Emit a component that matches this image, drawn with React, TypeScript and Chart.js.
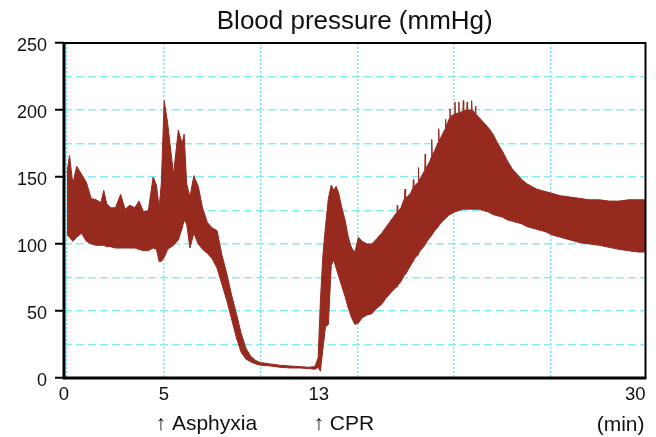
import React, { useEffect, useRef } from "react";
import { Chart, registerables } from "chart.js";

Chart.register(...registerables);

// time (min) at which envelope values were read
const timeMin = [
  0, 0.13, 0.3, 0.5, 0.75, 1.0, 1.25, 1.5, 1.75, 1.9, 2.05, 2.25, 2.5, 2.77, 3.0, 3.25, 3.5, 3.72, 3.95, 4.2,
  4.45, 4.62, 4.76, 4.87, 5.02, 5.2, 5.5, 5.75, 5.95, 6.05, 6.18, 6.35, 6.55, 6.78, 7.0, 7.25, 7.5, 7.75,
  8.0, 8.25, 8.5, 8.75, 9.0, 9.25, 9.5, 9.75, 10.0, 10.5, 11.0, 11.5, 12.0, 12.5, 12.8, 12.97,
  13.09, 13.22, 13.35, 13.5, 13.65, 13.78, 13.9, 14.03, 14.18, 14.36, 14.53, 14.7, 14.87, 15.05,
  15.25, 15.5, 15.75, 16.0, 16.25, 16.5, 16.75, 17.0, 17.04, 17.06, 17.08, 17.25, 17.43, 17.46, 17.49,
  17.75, 17.87, 17.89, 17.91, 18.0, 18.13, 18.15, 18.17, 18.25, 18.48, 18.5, 18.52, 18.75, 18.82, 18.84,
  18.86, 19.0, 19.18, 19.2, 19.22, 19.4, 19.53, 19.55, 19.57, 19.76, 19.78, 19.8, 20.02, 20.04, 20.06,
  20.22, 20.24, 20.26, 20.45, 20.47, 20.49, 20.65, 20.67, 20.69, 20.88, 20.9, 20.92, 21.08, 21.1, 21.12,
  21.25, 21.5, 21.75, 22.0, 22.25, 22.5, 22.75, 23.0, 23.25, 23.5, 23.75, 24.0, 24.25, 24.5, 24.75,
  25.0, 25.5, 26.0, 26.5, 27.0, 27.5, 28.0, 28.5, 29.0, 29.5, 30.0,
];

// upper envelope of the pressure trace (mmHg)
const systolicEnvelope = [
  153, 166, 145, 158, 152, 146, 134, 133, 131, 140, 130, 127, 127, 137, 126, 129, 127, 132, 124, 125,
  150, 144, 127, 145, 207, 190, 152, 185, 175, 182, 145, 135, 151, 143, 127, 116, 112, 110,
  92, 78, 62, 48, 33, 22, 16, 13, 11.5, 10.5, 9.5, 9, 8.5, 8, 8.5, 15,
  58, 92, 113, 134, 144, 140, 143, 138, 128, 118, 105, 97, 94, 105,
  102, 100, 100, 104, 108, 113, 118, 123, 124, 129, 124, 127, 134, 141, 134,
  138, 142, 148, 142, 144, 146, 157, 147, 149, 155, 167, 156, 162, 165, 178,
  166, 170, 176, 186, 177, 182, 186, 193, 187, 194, 201, 195, 197, 206, 197,
  198, 206, 198, 199, 207, 199, 200, 206, 200, 200, 207, 200, 198, 203, 197,
  195, 191, 187, 182, 175, 169, 162, 156, 152, 148, 145, 143, 141, 140, 139,
  138, 136, 135, 134, 133, 133, 132, 132, 133, 133, 133,
];

// lower envelope of the pressure trace (mmHg)
const diastolicEnvelope = [
  107, 105, 102, 105, 108, 102, 100, 99, 99, 99, 98, 98, 97, 97, 97, 97, 97, 96, 95, 95,
  97, 96, 87, 87, 90, 96, 99, 103, 112, 118, 115, 97, 108, 100, 96, 93, 89, 82,
  70, 58, 44, 30, 19, 14, 12, 10.5, 9.5, 9, 8, 7.5, 7.5, 7, 6.5, 8,
  5, 22, 38, 40, 84, 88, 82, 76, 69, 61, 52, 45, 40, 41,
  45, 47, 48, 52, 55, 60, 64, 68, 68, 68, 69, 72, 77, 77, 77,
  84, 87, 87, 88, 90, 92, 93, 93, 95, 99, 100, 100, 105, 106, 106,
  107, 110, 113, 113, 114, 117, 119, 119, 119, 122, 122, 122, 124, 124, 124,
  125, 125, 125, 126, 126, 126, 126, 126, 126, 126, 126, 126, 126, 126, 126,
  126, 125, 124, 122, 121, 120, 118, 117, 116, 115, 113, 112, 111, 110, 109,
  107, 105, 103, 101, 100, 99, 97.5, 96, 95, 94, 94,
];

const yMajorTicks = [0, 50, 100, 150, 200, 250];
const xGridMinutes = [0, 5, 10, 15, 20, 25];
const xLabelValues = [0, 5, 13, 30];
const xLabelTexts = ["0", "5", "13", "30"];
const eventValues = [5, 13];
const eventTexts = ["\u2191 Asphyxia", "\u2191 CPR"];
const titleText = "Blood pressure (mmHg)";
const unitText = "(min)";

const FONT = '"Liberation Sans", Arial, Helvetica, sans-serif';
const TRACE = "#962a1f";
const GRID_H = "#86edf3";
const GRID_V = "#78e6ef";

const framePlugin = {
  id: "bpFrame",
  afterDatasetsDraw(chart: any) {
    const { ctx, chartArea: a } = chart;
    ctx.save();
    ctx.strokeStyle = "#000";
    ctx.lineWidth = 2;
    ctx.beginPath();
    ctx.moveTo(a.left, a.top);
    ctx.lineTo(a.right, a.top);
    ctx.lineTo(a.right, a.bottom);
    ctx.stroke();
    ctx.lineWidth = 3;
    ctx.beginPath();
    ctx.moveTo(a.left, a.top - 1);
    ctx.lineTo(a.left, a.bottom);
    ctx.lineTo(a.right + 1, a.bottom);
    ctx.stroke();
    ctx.restore();
  },
};

const textPlugin = {
  id: "bpText",
  afterDraw(chart: any) {
    const { ctx, chartArea: a, scales } = chart;
    const xs = scales.x;
    ctx.save();
    ctx.fillStyle = "#111";
    ctx.textBaseline = "alphabetic";
    ctx.font = `26px ${FONT}`;
    ctx.textAlign = "center";
    ctx.fillText(titleText, (a.left + a.right) / 2, 29);

    ctx.font = `18.5px ${FONT}`;
    xLabelValues.forEach((v, i) => {
      let x = xs.getPixelForValue(v);
      let align: CanvasTextAlign = "center";
      if (i === 0) x = a.left;
      if (v > xs.max) {
        x = a.right;
        align = "right";
      }
      ctx.textAlign = align;
      ctx.fillText(xLabelTexts[i], x, 400);
    });

    ctx.font = `21px ${FONT}`;
    ctx.textAlign = "left";
    eventValues.forEach((v, i) => {
      const arrowW = ctx.measureText("\u2191").width;
      const x = xs.getPixelForValue(v) - arrowW / 2 - (i === 0 ? 3 : 0);
      ctx.fillText(eventTexts[i], x, 430);
    });
    ctx.textAlign = "right";
    ctx.fillText(unitText, a.right - 1, 431);
    ctx.restore();
  },
};

export default function App() {
  const ref = useRef<HTMLCanvasElement>(null);

  useEffect(() => {
    if (!ref.current) return;
    const upper = timeMin.map((t, i) => ({ x: t, y: systolicEnvelope[i] }));
    const lower = timeMin.map((t, i) => ({ x: t, y: diastolicEnvelope[i] }));

    const chart = new Chart(ref.current, {
      type: "line",
      data: {
        datasets: [
          {
            label: "Upper",
            data: upper,
            borderColor: TRACE,
            backgroundColor: TRACE,
            borderWidth: 1,
            pointRadius: 0,
            tension: 0,
            fill: "+1",
          },
          {
            label: "Lower",
            data: lower,
            borderColor: TRACE,
            backgroundColor: TRACE,
            borderWidth: 1,
            pointRadius: 0,
            tension: 0,
            fill: false,
          },
        ],
      },
      options: {
        responsive: false,
        animation: false,
        devicePixelRatio: 1,
        layout: { padding: { left: 0, right: 10.5, top: 43, bottom: 59 } },
        plugins: {
          legend: { display: false },
          title: { display: false },
          tooltip: { enabled: false },
        },
        scales: {
          x: {
            type: "linear",
            min: -0.155,
            max: 29.88,
            afterBuildTicks: (s: any) => {
              s.ticks = xGridMinutes.map((v) => ({ value: v }));
            },
            ticks: { display: false },
            grid: {
              color: GRID_V,
              lineWidth: 1.5,
              drawTicks: false,
            },
            border: { display: false, dash: [2, 2] },
          },
          y: {
            min: 0,
            max: 250,
            afterFit: (s: any) => {
              s.width = 64;
            },
            ticks: {
              stepSize: 25,
              autoSkip: false,
              padding: 8,
              labelOffset: 3,
              color: "#111",
              font: { family: FONT, size: 18 },
              callback: (v: any) => (yMajorTicks.includes(Number(v)) ? String(v) : ""),
            },
            grid: {
              color: (c: any) =>
                c.tick && (c.tick.value === 0 || c.tick.value === 250) ? "rgba(0,0,0,0)" : GRID_H,
              lineWidth: 1.5,
              drawTicks: true,
              tickLength: 9,
              tickWidth: 2,
              tickBorderDash: [],
              tickColor: (c: any) =>
                c.tick && yMajorTicks.includes(c.tick.value) ? "#000" : "rgba(0,0,0,0)",
            },
            border: { display: false, dash: [8, 4] },
          },
        },
      },
      plugins: [framePlugin, textPlugin],
    } as any);

    return () => chart.destroy();
  }, []);

  return (
    <div style={{ position: "fixed", left: 0, top: 0, width: 656, height: 437, background: "#fff" }}>
      <canvas ref={ref} width={656} height={437} style={{ display: "block", width: 656, height: 437 }} />
    </div>
  );
}
